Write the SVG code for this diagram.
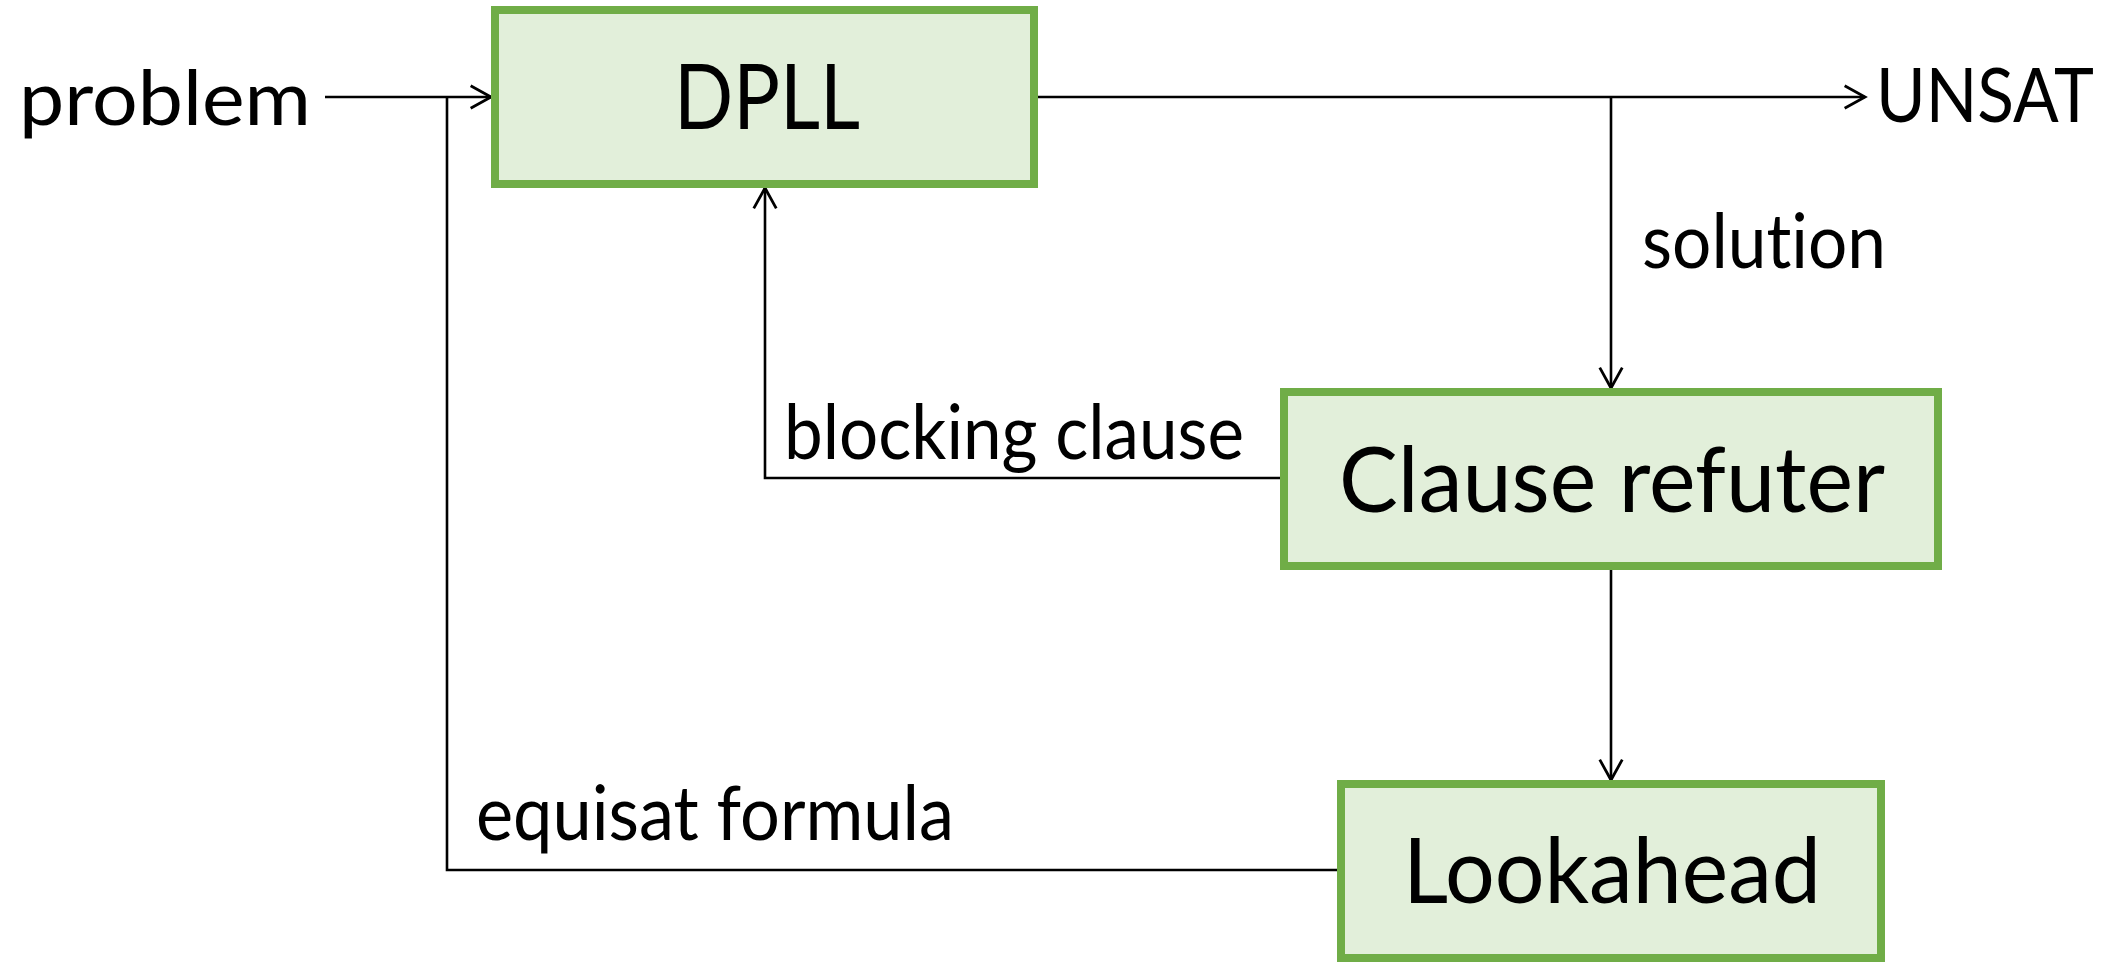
<svg xmlns="http://www.w3.org/2000/svg" width="2118" height="963" viewBox="0 0 2118 963">
  <style>
    .box { fill: #E2EFDA; stroke: #70AD47; stroke-width: 8; }
    .edge { fill: none; stroke: #000; stroke-width: 2.6; }
    text { font-family: Lato, "Open Sans", "Liberation Sans", sans-serif; fill: #000; font-variant-ligatures: none; }
    .title { font-size: 92px; text-anchor: middle; }
    .lbl { font-size: 75px; }
  </style>
  <defs>
    <marker id="open" markerUnits="userSpaceOnUse" markerWidth="30" markerHeight="30" viewBox="-22 -14 26 28" refX="0" refY="0" orient="auto">
      <path d="M -19 -10.5 L 0 0 L -19 10.5" fill="none" stroke="#000" stroke-width="2.6"/>
    </marker>
  </defs>
  <rect width="2118" height="963" fill="#fff"/>

  <g id="connectors">
    <!-- input into the solver -->
    <line class="edge" x1="325" y1="97" x2="491" y2="97" marker-end="url(#open)"/>
    <!-- DPLL result to UNSAT -->
    <line class="edge" x1="1038" y1="97" x2="1865" y2="97" marker-end="url(#open)"/>
    <!-- branch: solution to refuter -->
    <line class="edge" x1="1611" y1="97" x2="1611" y2="388" marker-end="url(#open)"/>
    <!-- blocking clause back to DPLL -->
    <path class="edge" d="M 1280 478 H 765 V 188" marker-end="url(#open)"/>
    <!-- refuter to lookahead -->
    <line class="edge" x1="1611" y1="570" x2="1611" y2="780" marker-end="url(#open)"/>
    <!-- equisat formula loop back into the input line -->
    <path class="edge" d="M 1337 870 H 447 V 97"/>
  </g>

  <g id="labels">
    <text class="lbl" x="19" y="125" font-size="88" textLength="292" lengthAdjust="spacingAndGlyphs">problem</text>
    <text class="lbl" x="1876" y="122" textLength="218" lengthAdjust="spacingAndGlyphs">UNSAT</text>
    <text class="lbl" x="1642" y="268" textLength="244" lengthAdjust="spacingAndGlyphs">solution</text>
    <text class="lbl" x="784" y="459" textLength="460" lengthAdjust="spacingAndGlyphs">blocking clause</text>
    <text class="lbl" x="476" y="840" textLength="478" lengthAdjust="spacingAndGlyphs">equisat formula</text>
  </g>

  <g id="dpll">
    <rect class="box" x="495" y="10" width="539" height="174"/>
    <text class="title" x="767" y="129" textLength="186" lengthAdjust="spacingAndGlyphs">DPLL</text>
  </g>

  <g id="clause-refuter">
    <rect class="box" x="1284" y="392" width="654" height="174"/>
    <text class="title" x="1612" y="512" textLength="546" lengthAdjust="spacingAndGlyphs">Clause refuter</text>
  </g>

  <g id="lookahead">
    <rect class="box" x="1341" y="784" width="540" height="174"/>
    <text class="title" x="1612" y="903" textLength="418" lengthAdjust="spacingAndGlyphs">Lookahead</text>
  </g>
</svg>
